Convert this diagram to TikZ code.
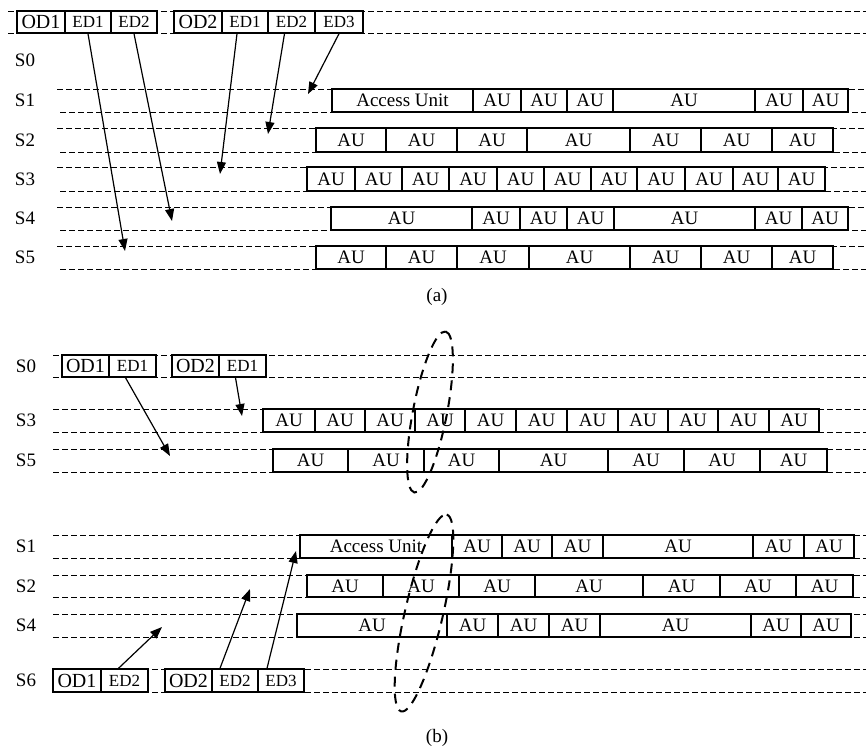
\documentclass[tikz,border=0pt]{standalone}
\usepackage{fontspec}
\setmainfont{Liberation Serif}
\usetikzlibrary{arrows.meta}

\tikzset{
  rowline/.style={dash pattern=on 6pt off 3pt, line width=0.9pt},
  aubox/.style={draw, line width=1.4pt, inner sep=0pt, font=\fontsize{19}{19}\selectfont},
  odbox/.style={aubox, font=\fontsize{20}{20}\selectfont},
  edbox/.style={aubox, font=\fontsize{17}{17}\selectfont},
  lane/.style={font=\fontsize{19}{19}\selectfont},
  link/.style={line width=1.2pt, -{Triangle[length=12pt,width=9pt]}},
  group/.style={line width=2pt, dash pattern=on 10pt off 7pt},
}

\begin{document}
\begin{tikzpicture}[x=1pt, y=-1pt]
    \useasboundingbox (0,0) rectangle (866,749);
    % (a) dashed lanes
    \draw[rowline] (8,11) -- (866,11);
    \draw[rowline] (8,33) -- (866,33);
    \foreach \yt/\yb in {89/112, 128/152, 167/191, 207/230, 246/269} {
      \draw[rowline] (57,\yt) -- (866,\yt);
      \draw[rowline] (60,\yb) -- (866,\yb);
    }
    % (b) dashed lanes
    \foreach \yt/\yb in {355/377, 409/432, 449/472, 535/558, 575/597, 614/637, 669/692} {
      \draw[rowline] (53,\yt) -- (866,\yt);
      \draw[rowline] (53,\yb) -- (866,\yb);
    }
    % (a) descriptors
    \node[odbox, minimum width=48, minimum height=22] (aod1) at (41,22) {OD1};
    \node[edbox, minimum width=46, minimum height=22] (aod1e1) at (88,22) {ED1};
    \node[edbox, minimum width=46, minimum height=22] (aod1e2) at (134,22) {ED2};
    \node[odbox, minimum width=48, minimum height=22] (aod2) at (198,22) {OD2};
    \node[edbox, minimum width=46, minimum height=22] (aod2e1) at (245,22) {ED1};
    \node[edbox, minimum width=47, minimum height=22] (aod2e2) at (291.5,22) {ED2};
    \node[edbox, minimum width=48, minimum height=22] (aod2e3) at (339,22) {ED3};
    % (a) lane labels
    \foreach \s/\y in {0/60, 1/100.5, 2/140, 3/179, 4/218.5, 5/257.5}
      \node[lane] (aS\s) at (25,\y) {S\s};
    % (a) access units
    \foreach \l/\r/\t [count=\i] in {332/473/Access Unit, 473/521/AU, 521/567/AU, 567/613/AU, 613/755/AU, 755/803/AU, 803/848/AU}
      \node[aubox, minimum width={\r-\l}, minimum height=23] (a1-\i) at ({(\l+\r)/2},100.5) {\t};
    \foreach \l/\r [count=\i] in {316/386, 386/457, 457/527, 527/630, 630/701, 701/772, 772/833}
      \node[aubox, minimum width={\r-\l}, minimum height=24] (a2-\i) at ({(\l+\r)/2},140) {AU};
    \foreach \l/\r [count=\i] in {307/355, 355/402, 402/449, 449/497, 497/544, 544/591, 591/637, 637/685, 685/733, 733/778, 778/825}
      \node[aubox, minimum width={\r-\l}, minimum height=24] (a3-\i) at ({(\l+\r)/2},179) {AU};
    \foreach \l/\r [count=\i] in {331/472, 472/520, 520/567, 567/614, 614/755, 755/802, 802/848}
      \node[aubox, minimum width={\r-\l}, minimum height=23] (a4-\i) at ({(\l+\r)/2},218.5) {AU};
    \foreach \l/\r [count=\i] in {316/386, 386/457, 457/529, 529/630, 630/701, 701/772, 772/833}
      \node[aubox, minimum width={\r-\l}, minimum height=23] (a5-\i) at ({(\l+\r)/2},257.5) {AU};
    % (a) references
    \coordinate (aS5in) at (125,251);
    \coordinate (aS4in) at (172,221);
    \coordinate (aS3in) at (220,174);
    \coordinate (aS2in) at (268,134);
    \coordinate (aS1in) at (308,94);
    \draw[link] (aod1e1.south) -- (aS5in);
    \draw[link] (aod1e2.south) -- (aS4in);
    \draw[link] ([xshift=-8pt]aod2e1.south) -- (aS3in);
    \draw[link] ([xshift=-7pt]aod2e2.south) -- (aS2in);
    \draw[link] (aod2e3.south) -- (aS1in);
    \node[lane] (capa) at (437,297) {(a)};

    % (b) upper group
    \node[odbox, minimum width=47, minimum height=22] (bod1) at (85.5,366) {OD1};
    \node[edbox, minimum width=47, minimum height=22] (bod1e1) at (132.5,366) {ED1};
    \node[odbox, minimum width=47, minimum height=22] (bod2) at (195.5,366) {OD2};
    \node[edbox, minimum width=47, minimum height=22] (bod2e1) at (242.5,366) {ED1};
    \foreach \s/\y in {0/366, 3/420.5, 5/460.5, 1/546.5, 2/586, 4/625.5, 6/680.5}
      \node[lane] (bS\s) at (26,\y) {S\s};
    \foreach \l/\r [count=\i] in {263/315, 315/365, 365/415, 415/465, 465/516, 516/567, 567/618, 618/668, 668/718, 718/769, 769/819}
      \node[aubox, minimum width={\r-\l}, minimum height=23] (b3-\i) at ({(\l+\r)/2},420.5) {AU};
    \foreach \l/\r [count=\i] in {273/348, 348/424, 424/499, 499/608, 608/684, 684/760, 760/827}
      \node[aubox, minimum width={\r-\l}, minimum height=23] (b5-\i) at ({(\l+\r)/2},460.5) {AU};
    \coordinate (bS5in) at (170,456);
    \coordinate (bS3in) at (242,416);
    \draw[link] ([xshift=-7pt]bod1e1.south) -- (bS5in);
    \draw[link] ([xshift=-7pt]bod2e1.south) -- (bS3in);
    \draw[group, rotate around={79:(430,412)}] (430,412) ellipse [x radius=82, y radius=17];

    % (b) lower group
    \foreach \l/\r/\t [count=\i] in {300/452/Access Unit, 452/502/AU, 502/552/AU, 552/603/AU, 603/753/AU, 753/804/AU, 804/854/AU}
      \node[aubox, minimum width={\r-\l}, minimum height=23] (b1-\i) at ({(\l+\r)/2},546.5) {\t};
    \foreach \l/\r [count=\i] in {307/383, 383/459, 459/535, 535/643, 643/720, 720/796, 796/853}
      \node[aubox, minimum width={\r-\l}, minimum height=22] (b2-\i) at ({(\l+\r)/2},586) {AU};
    \foreach \l/\r [count=\i] in {297/447, 447/498, 498/549, 549/600, 600/751, 751/801, 801/851}
      \node[aubox, minimum width={\r-\l}, minimum height=23] (b4-\i) at ({(\l+\r)/2},625.5) {AU};
    \node[odbox, minimum width=48, minimum height=23] (cod1) at (77,680.5) {OD1};
    \node[edbox, minimum width=47, minimum height=23] (cod1e2) at (124.5,680.5) {ED2};
    \node[odbox, minimum width=47, minimum height=23] (cod2) at (188.5,680.5) {OD2};
    \node[edbox, minimum width=46, minimum height=23] (cod2e2) at (235,680.5) {ED2};
    \node[edbox, minimum width=46, minimum height=23] (cod2e3) at (281,680.5) {ED3};
    \coordinate (bS4in) at (162,627);
    \coordinate (bS2in) at (250,589);
    \coordinate (bS1in) at (296,551);
    \draw[link] ([xshift=-6pt]cod1e2.north) -- (bS4in);
    \draw[link] ([xshift=-15pt]cod2e2.north) -- (bS2in);
    \draw[link] ([xshift=-14pt]cod2e3.north) -- (bS1in);
    \draw[group, rotate around={77:(424,613)}] (424,613) ellipse [x radius=101, y radius=19];
    \node[lane] (capb) at (437,738) {(b)};
\end{tikzpicture}
\end{document}
